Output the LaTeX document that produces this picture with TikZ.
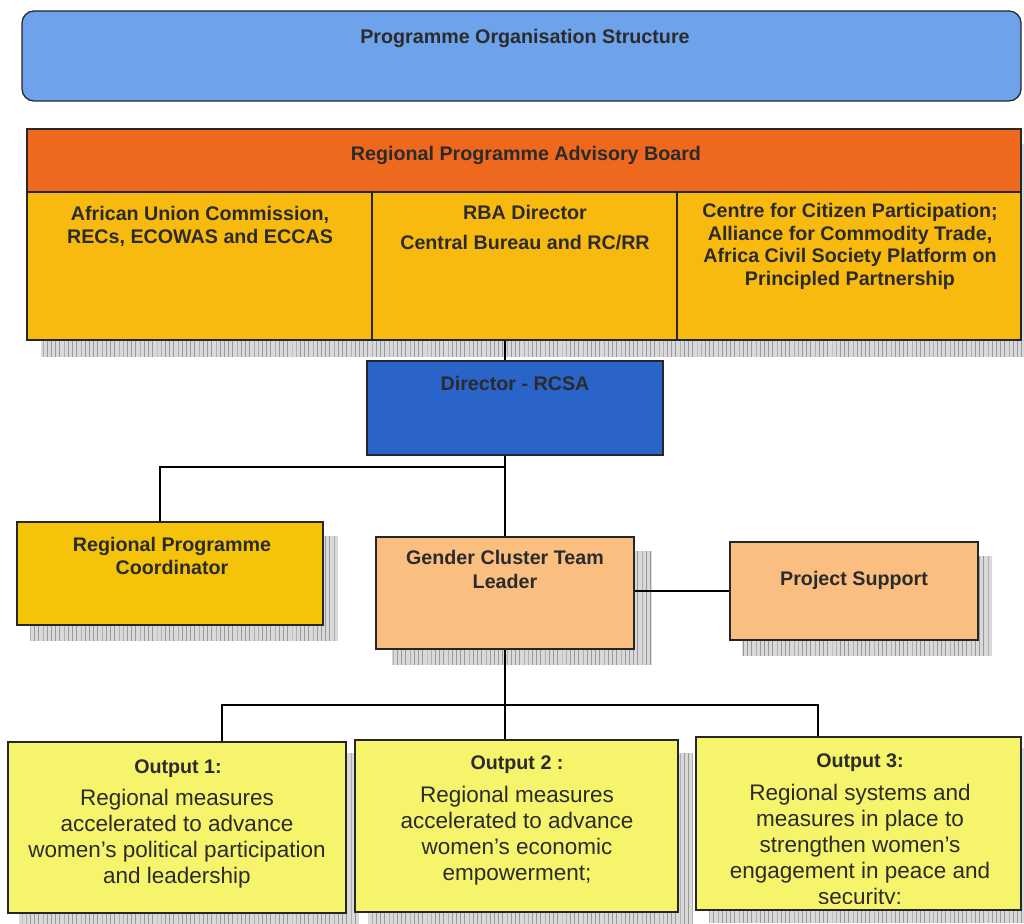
\documentclass[tikz,border=0pt]{standalone}
\usepackage{fontspec}
\setmainfont{Liberation Sans}
\usetikzlibrary{fit,patterns}
\definecolor{topblue}{HTML}{6EA2EA}
\definecolor{boardorange}{HTML}{EE681E}
\definecolor{cellyellow}{HTML}{F8BA0E}
\definecolor{dirblue}{HTML}{2A64C8}
\definecolor{coordgold}{HTML}{F5C40A}
\definecolor{peach}{HTML}{F9BE80}
\definecolor{outyellow}{HTML}{F6F46A}
\definecolor{inkgray}{HTML}{2B2B2B}
\pgfdeclarelayer{bg}
\pgfsetlayers{bg,main}
\begin{document}
\begin{tikzpicture}[x=0.025cm,y=-0.025cm,
  box/.style={draw=black!85,line width=0.9pt,inner sep=0pt},
  hd/.style={inner sep=0pt,anchor=north,align=center,text=inkgray,
    font=\fontsize{14}{16}\selectfont\bfseries},
  body/.style={inner sep=0pt,anchor=north,align=center,text=inkgray,
    font=\fontsize{16}{18.5}\selectfont},
  shade/.style={fill=gray!30,postaction={pattern=vertical lines,pattern color=gray!80}},
  link/.style={draw=black,line width=0.9pt}]
\useasboundingbox (0,0) rectangle (1024,924);

% title banner
\node[box,rounded corners=0.3cm,fill=topblue,fit={(22,11) (1021,101)}] (title) {};
\node[hd] (titletxt) at (525,29) {Programme Organisation Structure};

% advisory board: header strip and three member cells
\node[box,fill=boardorange,fit={(27,129) (1021,192)}] (board) {};
\node[box,fill=cellyellow,fit={(27,192) (372,340)}] (c1) {};
\node[box,fill=cellyellow,fit={(372,192) (677,340)}] (c2) {};
\node[box,fill=cellyellow,fit={(677,192) (1021,340)}] (c3) {};
\node[hd] (boardtxt) at (526,146) {Regional Programme Advisory Board};
\node[hd] (c1txt) at (200,206) {African Union Commission,\\RECs, ECOWAS and ECCAS};
\node[hd,font=\fontsize{14}{21.5}\selectfont\bfseries] (c2txt) at (525,205) {RBA Director\\Central Bureau and RC/RR};
\node[hd] (c3txt) at (850,203) {Centre for Citizen Participation;\\Alliance for Commodity Trade,\\Africa Civil Society Platform on\\Principled Partnership};

% management boxes
\node[box,fill=dirblue,fit={(367,361) (663,455)}] (dir) {};
\node[hd] (dirtxt) at (515,376) {Director - RCSA};
\node[box,fill=coordgold,fit={(17,522) (323,625)}] (rpc) {};
\node[hd] (rpctxt) at (172,537) {Regional Programme\\Coordinator};
\node[box,fill=peach,fit={(376,537) (634,649)}] (gctl) {};
\node[hd,font=\fontsize{14}{17}\selectfont\bfseries] (gctltxt) at (505,550) {Gender Cluster Team\\Leader};
\node[box,fill=peach,fit={(730,542) (978,640)}] (ps) {};
\node[hd] (pstxt) at (854,571) {Project Support};

% outputs
\node[box,fill=outyellow,fit={(8,742) (346,913)}] (o1) {};
\node[box,fill=outyellow,fit={(355,740) (678,912)}] (o2) {};
\node[box,fill=outyellow,fit={(696,737) (1021,910)}] (o3) {};
\node[hd] (o1hd) at (178,759) {Output 1:};
\node[body] (o1txt) at (177,789) {Regional measures\\accelerated to advance\\women’s political participation\\and leadership};
\node[hd] (o2hd) at (517,755) {Output 2 :};
\node[body] (o2txt) at (517,786) {Regional measures\\accelerated to advance\\women’s economic\\empowerment;};
\node[hd] (o3hd) at (860,753) {Output 3:};
\begin{scope}
  \clip (o3.north west) rectangle ([shift={(0,-7)}]o3.south east);
  \node[body] (o3txt) at (860,784) {Regional systems and\\measures in place to\\strengthen women’s\\engagement in peace and\\security;};
\end{scope}

% drop shadows
\begin{pgfonlayer}{bg}
  \fill[shade] ([shift={(15,16)}]board.north west) rectangle ([shift={(15,16)}]c3.south east);
  \fill[shade] ([shift={(14,15)}]rpc.north west) rectangle ([shift={(14,15)}]rpc.south east);
  \fill[shade] ([shift={(17,15)}]gctl.north west) rectangle ([shift={(17,15)}]gctl.south east);
  \fill[shade] ([shift={(13,15)}]ps.north west) rectangle ([shift={(13,15)}]ps.south east);
  \fill[shade] ([shift={(12,12)}]o1.north west) rectangle ([shift={(12,12)}]o1.south east);
  \fill[shade] ([shift={(14,14)}]o2.north west) rectangle ([shift={(14,14)}]o2.south east);
  \fill[shade] ([shift={(14,12)}]o3.north west) rectangle ([shift={(14,12)}]o3.south east);
\end{pgfonlayer}

% connectors
\coordinate (spine) at (505,0);
\coordinate (j1) at (505,467);
\coordinate (xl) at (160,0);
\coordinate (j2) at (505,705);
\coordinate (xa) at (222,0);
\coordinate (xc) at (818,0);
\draw[link] (c2.south -| spine) -- (dir.north -| spine);
\draw[link] (dir.south -| spine) -- (gctl.north);
\draw[link] (j1) -| (rpc.north -| xl);
\draw[link] (gctl.east |- ps.west) -- (ps.west);
\draw[link] (gctl.south) -- (j2);
\draw[link] (o1.north -| xa) |- (j2) -| (o3.north -| xc);
\draw[link] (j2) -- (o2.north -| spine);
\end{tikzpicture}
\end{document}
